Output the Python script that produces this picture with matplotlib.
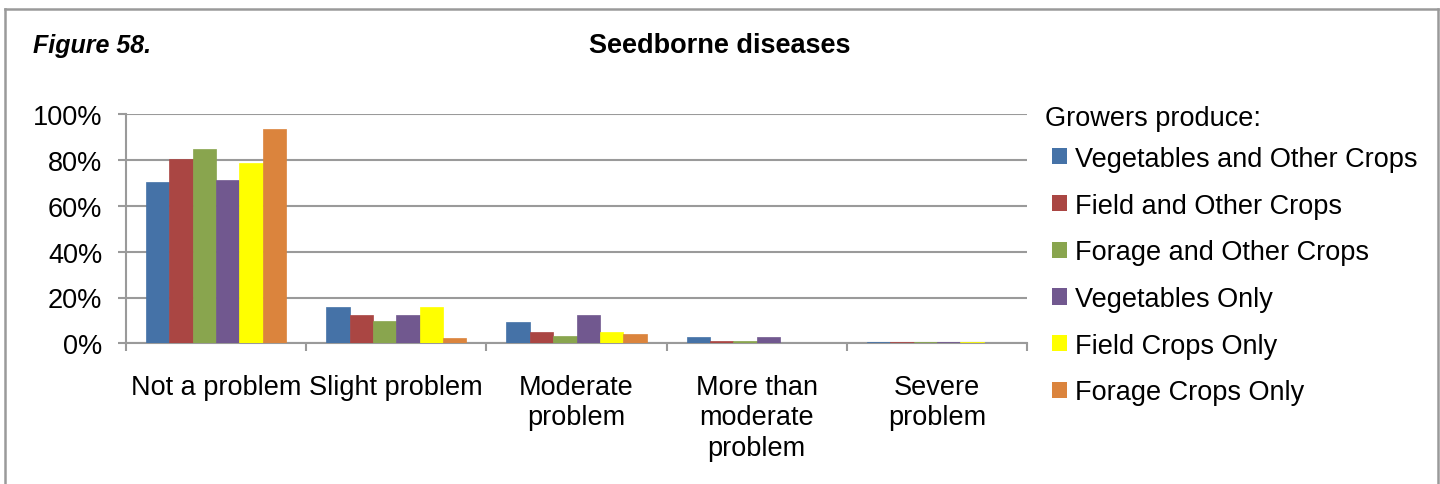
import matplotlib
matplotlib.use("Agg")
import matplotlib.pyplot as plt
import numpy as np
from matplotlib.lines import Line2D
from matplotlib.patches import Patch
from matplotlib.ticker import FuncFormatter, FixedLocator

plt.rcParams['font.family'] = ['Liberation Sans', 'DejaVu Sans']

categories = ["Not a problem", "Slight problem", "Moderate\nproblem",
              "More than\nmoderate\nproblem", "Severe\nproblem"]
series_names = ["Vegetables and Other Crops", "Field and Other Crops",
                "Forage and Other Crops", "Vegetables Only",
                "Field Crops Only", "Forage Crops Only"]
veg_other = [70.4, 15.7, 9.5, 2.6, 0.7]
field_other = [80.6, 12.4, 4.8, 0.9, 0.7]
forage_other = [84.7, 9.7, 3.4, 0.8, 0.7]
veg_only = [71.3, 12.4, 12.2, 2.6, 0.7]
field_only = [78.7, 15.7, 4.8, 0.0, 0.7]
forage_only = [93.6, 2.3, 4.2, 0.0, 0.0]
yticks = [0, 20, 40, 60, 80, 100]

series = [veg_other, field_other, forage_other, veg_only, field_only, forage_only]
colors = ["#4572A7", "#AA4643", "#89A54E", "#71588F", "#FFFF00", "#DB843D"]
grey = "#9a9a9a"
fs = 19.5

fig = plt.figure(figsize=(14.4, 4.85), dpi=100)
ax = fig.add_axes([126 / 1440, 1 - 344.3 / 485, (1027 - 126) / 1440, (344.3 - 115.3) / 485])

n_series = len(series)
x = np.arange(len(categories))
width = 0.778 / n_series
for i, (vals, col, name) in enumerate(zip(series, colors, series_names)):
    offs = (i - (n_series - 1) / 2) * width
    ax.bar(x + offs, vals, width, color=col, edgecolor=col, linewidth=0.5,
           label=name, zorder=3)

ax.set_xlim(-0.5, len(categories) - 0.5)
ax.set_ylim(0, 100)
ax.set_yticks(yticks)
ax.yaxis.set_major_formatter(FuncFormatter(lambda v, p: f"{v:.0f}%"))
ax.grid(axis="y", color=grey, linewidth=1.5, zorder=0)
ax.set_axisbelow(True)

ax.set_xticks(x)
ax.set_xticklabels(categories, linespacing=1.22)
ax.xaxis.set_minor_locator(FixedLocator(np.arange(-0.5, len(categories), 1.0)))
ax.tick_params(axis="x", which="major", length=0, pad=22, labelsize=fs)
ax.tick_params(axis="x", which="minor", length=6, width=1.5, color=grey)
ax.tick_params(axis="y", length=6, width=1.5, color=grey, pad=11, labelsize=fs)

for s in ["top", "right"]:
    ax.spines[s].set_visible(False)
for s in ["left", "bottom"]:
    ax.spines[s].set_color(grey)
    ax.spines[s].set_linewidth(1.5)

fig.text(720 / 1440, 1 - 46 / 485, "Seedborne diseases", ha="center", va="center",
         fontsize=19.5, fontweight="bold")
fig.text(33 / 1440, 1 - 46 / 485, "Figure 58.", ha="left", va="center",
         fontsize=18, fontweight="bold", style="italic")

# legend heading and entries
fig.text(1045 / 1440, 1 - 119 / 485, "Growers produce:", ha="left", va="center",
         fontsize=fs)
handles = [Patch(facecolor=c, edgecolor="none") for c in colors]
leg = fig.legend(handles, series_names,
                 loc="upper left", bbox_to_anchor=(1028 / 1440, 1 - 122.5 / 485),
                 frameon=False, fontsize=fs,
                 handlelength=0.55, handleheight=0.55, handletextpad=0.3,
                 labelspacing=0.765)

# outer frame
fx0, fx1, fy1 = 4.5 / 1440, 1437.5 / 1440, 1 - 10 / 485
for xs, ys in [([fx0, fx0], [-0.05, fy1]), ([fx0, fx1], [fy1, fy1]), ([fx1, fx1], [fy1, -0.05])]:
    fig.add_artist(Line2D(xs, ys, transform=fig.transFigure, color=grey, linewidth=1.8))

fig.savefig("out.png", dpi=100)
